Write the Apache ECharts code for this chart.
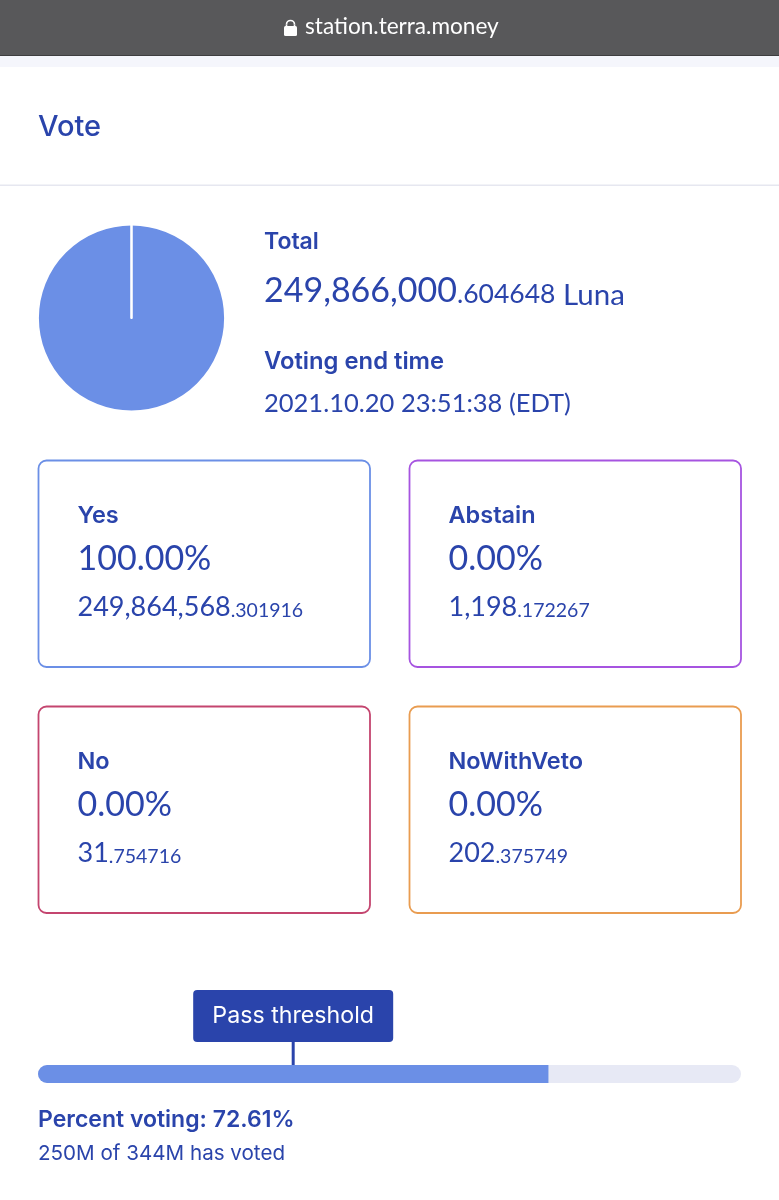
<!DOCTYPE html>
<html>
<head>
<meta charset="utf-8">
<style>
html, body { margin: 0; padding: 0; background: #fff; }
#main { width: 779px; height: 1200px; }
</style>
<script src="https://cdn.jsdelivr.net/npm/echarts@6/dist/echarts.min.js"></script>
</head>
<body>
<div id="main"></div>
<script>
const voteNames = ['Yes', 'Abstain', 'No', 'NoWithVeto'];
const votePercents = ['100.00%', '0.00%', '0.00%', '0.00%'];
const voteWhole = ['249,864,568', '1,198', '31', '202'];
const voteDecimals = ['.301916', '.172267', '.754716', '.375749'];
const voteValues = [249864568.301916, 1198.172267, 31.754716, 202.375749];
const voteColors = ['#6b8fe6', '#a654e0', '#c4456f', '#e99c50'];
const percentVoting = 72.61;
const passThreshold = 36.3;
const barMax = 100;

const NAVY = '#2a44ab';
const FONT = 'Lato';
const HEAD_FONT = 'Inter';

let myChart = echarts.init(document.getElementById('main'), null, { renderer: 'canvas' });

function label(x, y, text, size, weight, color, family) {
    return {
        type: 'text', x: x, y: y,
        style: {
            text: text, fill: color || NAVY,
            font: (weight || 400) + ' ' + size + 'px ' + (family || FONT),
            verticalAlign: 'middle'
        }
    };
}

// number with the decimals set smaller
function amount(x, y, whole, decimals, size, smallSize) {
    return {
        type: 'text', x: x, y: y,
        style: {
            text: '{a|' + whole + '}{b|' + decimals + '}',
            verticalAlign: 'middle',
            rich: {
                a: { fontFamily: FONT, fontSize: size, fill: NAVY, verticalAlign: 'bottom' },
                b: { fontFamily: FONT, fontSize: smallSize, fill: NAVY, verticalAlign: 'bottom' }
            }
        }
    };
}

let elements = [
    // browser bar
    { type: 'rect', shape: { x: 0, y: 0, width: 779, height: 56 }, style: { fill: '#58585a' } },
    { type: 'rect', shape: { x: 0, y: 55, width: 779, height: 1 }, style: { fill: '#3e3e40' } },
    { type: 'rect', shape: { x: 0, y: 56, width: 779, height: 11 }, style: { fill: '#f5f6fc' } },
    { type: 'rect', shape: { x: 284, y: 26, width: 13, height: 10, r: 1.5 }, style: { fill: '#fff' } },
    { type: 'arc', shape: { cx: 290.5, cy: 24.5, r: 4, startAngle: Math.PI, endAngle: 0 }, style: { stroke: '#fff', lineWidth: 1.6, fill: null } },
    { type: 'line', shape: { x1: 286.5, y1: 24.5, x2: 286.5, y2: 27 }, style: { stroke: '#fff', lineWidth: 1.6 } },
    { type: 'line', shape: { x1: 294.5, y1: 24.5, x2: 294.5, y2: 27 }, style: { stroke: '#fff', lineWidth: 1.6 } },
    label(305, 27, 'station.terra.money', 22.6, 400, '#ffffff'),
    // heading
    label(38, 127, 'Vote', 29, 500, NAVY, HEAD_FONT),
    { type: 'rect', shape: { x: 0, y: 184.5, width: 779, height: 1.5 }, style: { fill: '#e6e7f0' } },
    // summary
    label(264, 242, 'Total', 23, 600, NAVY, HEAD_FONT),
    amount(264, 291, '249,866,000', '.604648', 34, 26.5),
    label(563, 295, 'Luna', 29.5),
    label(264, 362, 'Voting end time', 23.8, 600, NAVY, HEAD_FONT),
    label(264, 404, '2021.10.20 23:51:38 (EDT)', 25.5),
    // footer text
    label(38, 1120, 'Percent voting: ' + percentVoting.toFixed(2) + '%', 23, 600, NAVY, HEAD_FONT),
    label(38, 1154, '250M of 344M has voted', 20.6, 400, NAVY, HEAD_FONT)
];

// the four vote cards
const cardX = [38, 409, 38, 409];
const cardY = [460, 460, 706, 706];
voteNames.forEach((name, i) => {
    elements.push({
        type: 'rect',
        shape: { x: cardX[i] + 0.5, y: cardY[i] + 0.5, width: 331.5, height: 206.5, r: 8 },
        style: { fill: '#fff', stroke: voteColors[i], lineWidth: 1.8 }
    });
    elements.push(label(cardX[i] + 39.5, cardY[i] + 56, name, 23.5, 600, NAVY, HEAD_FONT));
    elements.push(label(cardX[i] + 39.5, cardY[i] + 99, votePercents[i], 34));
    elements.push(amount(cardX[i] + 39.5, cardY[i] + 147, voteWhole[i], voteDecimals[i], 27, 19.5));
});

let option = {
    animation: false,
    backgroundColor: '#fff',
    graphic: { elements: elements },
    grid: { left: 38, top: 1065, width: 703, height: 18, containLabel: false },
    xAxis: { type: 'value', min: 0, max: barMax, show: false },
    yAxis: { type: 'category', data: ['Percent voting'], show: false },
    series: [
        {
            type: 'pie',
            center: [131.5, 318],
            radius: [0, 93.5],
            startAngle: 90,
            label: { show: false },
            labelLine: { show: false },
            itemStyle: { borderColor: '#fff', borderWidth: 1.8 },
            data: voteNames.map((name, i) => ({
                name: name,
                value: voteValues[i],
                itemStyle: { color: voteColors[i] }
            }))
        },
        {
            type: 'bar',
            data: [barMax],
            barWidth: 18,
            silent: true,
            z: 1,
            itemStyle: { color: '#e7e9f5', borderRadius: 9 }
        },
        {
            type: 'bar',
            data: [percentVoting],
            barWidth: 18,
            barGap: '-100%',
            z: 2,
            itemStyle: { color: '#6b8fe6', borderRadius: [9, 0, 0, 9] }
        },
        {
            // threshold flag, positioned from its value on the x axis
            type: 'custom',
            data: [[passThreshold, 0]],
            z: 3,
            renderItem: function (params, api) {
                const p = api.coord([api.value(0), 0]);
                const barTop = 1065;
                return {
                    type: 'group',
                    children: [
                        { type: 'rect', shape: { x: p[0] - 1.5, y: 1040, width: 3, height: barTop - 1040 }, style: { fill: NAVY } },
                        { type: 'rect', shape: { x: p[0] - 100, y: 990, width: 200, height: 52, r: 4 }, style: { fill: NAVY } },
                        { type: 'text', x: p[0], y: 1016, style: { text: 'Pass threshold', fill: '#fff', font: '400 23.2px ' + HEAD_FONT, align: 'center', verticalAlign: 'middle' } }
                    ]
                };
            }
        }
    ]
};
myChart.setOption(option);
</script>
</body>
</html>
